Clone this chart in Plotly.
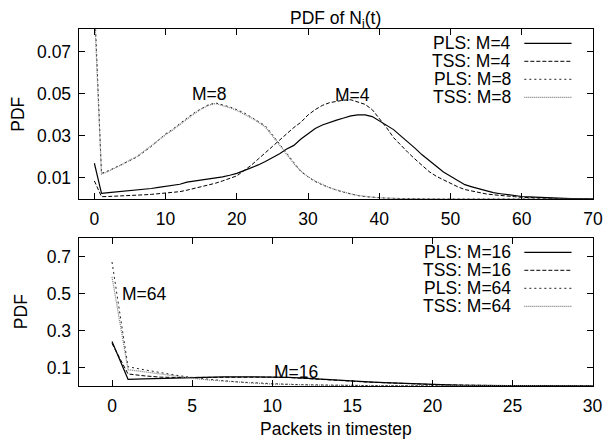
import plotly.graph_objects as go

# ---------------- data ----------------
x_top = list(range(0, 71))
pls_m4 = [0.017, 0.0027, 0.003, 0.0033, 0.0036, 0.004, 0.0045, 0.0048, 0.005, 0.0055,
          0.006, 0.0065, 0.007, 0.008, 0.0085, 0.009, 0.0093, 0.0098, 0.0105, 0.0113,
          0.0122, 0.0135, 0.0148, 0.0162, 0.0178, 0.0195, 0.0215, 0.0238, 0.0255, 0.0285,
          0.031, 0.0335, 0.0352, 0.0365, 0.0375, 0.0385, 0.0395, 0.040, 0.040, 0.0392,
          0.0372, 0.0352, 0.033, 0.030, 0.0272, 0.0242, 0.021, 0.0182, 0.0155, 0.0128,
          0.0108, 0.0088, 0.0068, 0.0058, 0.0048, 0.0038, 0.003, 0.0025, 0.002, 0.0018,
          0.0012, 0.001, 0.0008, 0.0006, 0.0005, 0.0004, 0.0003, 0.0002, 0.0002, 0.0001, 0.0001]
tss_m4 = [0.0086, 0.0011, 0.0012, 0.0013, 0.0015, 0.0016, 0.0018, 0.002, 0.0022, 0.0025,
          0.0027, 0.003, 0.0035, 0.0042, 0.005, 0.0058, 0.0066, 0.0075, 0.0086, 0.0098,
          0.011, 0.0135, 0.016, 0.019, 0.0218, 0.025, 0.028, 0.031, 0.034, 0.0365,
          0.040, 0.0425, 0.0445, 0.0458, 0.0465, 0.047, 0.0472, 0.0462, 0.045, 0.0425,
          0.0385, 0.034, 0.0292, 0.0255, 0.0222, 0.019, 0.0162, 0.013, 0.0108, 0.009,
          0.0072, 0.0058, 0.0045, 0.0038, 0.003, 0.0024, 0.002, 0.0016, 0.0013, 0.0011,
          0.0008, 0.0006, 0.0005, 0.0004, 0.0003, 0.0002, 0.0002, 0.0001, 0.0001, 0.0001, 0.0]
pls_m8 = [0.095, 0.0122, 0.0135, 0.015, 0.0165, 0.0183, 0.020, 0.0225, 0.025, 0.028,
          0.031, 0.0332, 0.036, 0.0385, 0.041, 0.043, 0.0448, 0.0457, 0.0448, 0.0438,
          0.0425, 0.041, 0.039, 0.037, 0.0348, 0.0305, 0.026, 0.0215, 0.017, 0.013,
          0.0105, 0.0083, 0.0067, 0.0053, 0.0042, 0.0032, 0.0023, 0.0016, 0.0011, 0.0008,
          0.0006, 0.0004, 0.0003, 0.0002, 0.0001, 0.0001, 0.0001, 0.0, 0.0, 0.0,
          0.0, 0.0, 0.0, 0.0, 0.0, 0.0, 0.0, 0.0, 0.0, 0.0,
          0.0, 0.0, 0.0, 0.0, 0.0, 0.0, 0.0, 0.0, 0.0, 0.0, 0.0]
tss_m8 = [0.09, 0.0118, 0.0132, 0.0148, 0.0166, 0.0185, 0.0203, 0.0228, 0.0254, 0.0283,
          0.0305, 0.0328, 0.0355, 0.0382, 0.0405, 0.0428, 0.0445, 0.0454, 0.0445, 0.0434,
          0.0421, 0.0405, 0.0386, 0.0366, 0.0342, 0.030, 0.0256, 0.0212, 0.0168, 0.0132,
          0.0106, 0.0085, 0.0068, 0.0054, 0.0043, 0.0033, 0.0024, 0.0017, 0.0012, 0.0009,
          0.0006, 0.0004, 0.0003, 0.0002, 0.0002, 0.0001, 0.0001, 0.0001, 0.0, 0.0,
          0.0, 0.0, 0.0, 0.0, 0.0, 0.0, 0.0, 0.0, 0.0, 0.0,
          0.0, 0.0, 0.0, 0.0, 0.0, 0.0, 0.0, 0.0, 0.0, 0.0, 0.0]

x_bot = list(range(0, 31))
pls_m16 = [0.24, 0.036, 0.038, 0.041, 0.044, 0.046, 0.048, 0.049, 0.050, 0.050,
           0.049, 0.047, 0.043, 0.037, 0.032, 0.027, 0.022, 0.018, 0.014, 0.011,
           0.009, 0.006, 0.004, 0.003, 0.002, 0.0015, 0.001, 0.0008, 0.0005, 0.0003, 0.0002]
tss_m16 = [0.23, 0.065, 0.055, 0.048, 0.046, 0.047, 0.048, 0.049, 0.049, 0.049,
           0.048, 0.046, 0.042, 0.036, 0.031, 0.026, 0.021, 0.017, 0.013, 0.010,
           0.008, 0.006, 0.004, 0.003, 0.002, 0.0015, 0.001, 0.0007, 0.0005, 0.0003, 0.0002]
pls_m64 = [0.67, 0.104, 0.088, 0.072, 0.058, 0.046, 0.036, 0.028, 0.021, 0.016,
           0.012, 0.009, 0.007, 0.005, 0.004, 0.003, 0.002, 0.0015, 0.001, 0.0008,
           0.0006, 0.0004, 0.0003, 0.0002, 0.0002, 0.0001, 0.0001, 0.0001, 0.0, 0.0, 0.0]
tss_m64 = [0.59, 0.088, 0.077, 0.064, 0.052, 0.042, 0.033, 0.026, 0.020, 0.015,
           0.011, 0.008, 0.006, 0.0045, 0.0035, 0.0025, 0.0018, 0.0013, 0.001, 0.0007,
           0.0005, 0.0004, 0.0003, 0.0002, 0.0001, 0.0001, 0.0001, 0.0, 0.0, 0.0, 0.0]

top_names = ["PLS: M=4", "TSS: M=4", "PLS: M=8", "TSS: M=8"]
bot_names = ["PLS: M=16", "TSS: M=16", "PLS: M=64", "TSS: M=64"]
top_ticks_x = [0, 10, 20, 30, 40, 50, 60, 70]
top_ticks_y = [0.01, 0.03, 0.05, 0.07]
bot_ticks_x = [0, 5, 10, 15, 20, 25, 30]
bot_ticks_y = [0.1, 0.3, 0.5, 0.7]

# ---------------- styling ----------------
W, H = 615, 445
FONT = "Liberation Sans, Arial, sans-serif"
FS = 17.5
styles = [
    dict(color="black", width=1.2, dash="solid"),
    dict(color="black", width=1.0, dash="4px,2px"),
    dict(color="#222222", width=1.0, dash="2px,3px"),
    dict(color="#777777", width=1.2, dash="1px,1px"),
]

def px_x(p):
    return p / W

def px_y(p):
    return 1 - p / H

fig = go.Figure()
for name, ys, st in zip(top_names, [pls_m4, tss_m4, pls_m8, tss_m8], styles):
    fig.add_trace(go.Scatter(x=x_top, y=ys, mode="lines", name=name, line=st,
                             xaxis="x", yaxis="y", showlegend=False))
for name, ys, st in zip(bot_names, [pls_m16, tss_m16, pls_m64, tss_m64], styles):
    fig.add_trace(go.Scatter(x=x_bot, y=ys, mode="lines", name=name, line=st,
                             xaxis="x2", yaxis="y2", showlegend=False))

ax_common = dict(showgrid=False, zeroline=False, showline=True, linecolor="black",
                 linewidth=1.2, mirror="ticks", ticks="inside", ticklen=6,
                 tickcolor="black", tickwidth=1,
                 tickfont=dict(family=FONT, size=FS, color="black"))

dom_x = [px_x(80), px_x(603)]
fig.update_layout(
    width=W, height=H, margin=dict(l=0, r=0, t=0, b=0),
    paper_bgcolor="white", plot_bgcolor="white", showlegend=False,
    xaxis=dict(ax_common, domain=dom_x, range=[-2.2, 70.02], tickvals=top_ticks_x,
               anchor="y", ticklabelstandoff=4),
    yaxis=dict(ax_common, domain=[px_y(199), px_y(29.3)], range=[0, 0.0807],
               tickvals=top_ticks_y, anchor="x", ticklabelstandoff=3),
    xaxis2=dict(ax_common, domain=dom_x, range=[-2.08, 30.04], tickvals=bot_ticks_x,
                anchor="y2", ticklabelstandoff=4),
    yaxis2=dict(ax_common, domain=[px_y(386), px_y(238)], range=[0, 0.8],
                tickvals=bot_ticks_y, anchor="x2", ticklabelstandoff=3),
)

ann = []
def txt(text, x, y, xref="paper", yref="paper", xanchor="center", yanchor="middle", angle=0):
    ann.append(dict(text=text, x=x, y=y, xref=xref, yref=yref, xanchor=xanchor,
                    yanchor=yanchor, showarrow=False, textangle=angle,
                    font=dict(family=FONT, size=FS, color="black")))

txt("PDF of N<sub>i</sub>(t)", px_x(341.5), px_y(19))
txt("PDF", px_x(17.5), px_y(114.5), angle=-90)
txt("PDF", px_x(21), px_y(311.5), angle=-90)
txt("Packets in timestep", px_x(341.5), px_y(429))
txt("M=8", 16.1, 0.050, "x", "y")
txt("M=4", 36.3, 0.0495, "x", "y")
txt("M=64", 0.5, 0.50, "x2", "y2", xanchor="left")
txt("M=16", 10.0, 0.075, "x2", "y2", xanchor="left")

shapes = []
for rows, names in [([43.3, 61.3, 79.3, 97.3], top_names), ([252.3, 270.3, 288.3, 306.3], bot_names)]:
    for r, name, st in zip(rows, names, styles):
        txt(name, px_x(521), px_y(r), xanchor="right")
        shapes.append(dict(type="line", xref="paper", yref="paper",
                           x0=px_x(533), x1=px_x(581), y0=px_y(r), y1=px_y(r),
                           line=st))

fig.update_layout(annotations=ann, shapes=shapes)
fig.write_html("out.html", config={"displayModeBar": False},
               post_script="document.body.style.margin='0';document.body.style.overflow='hidden';")
